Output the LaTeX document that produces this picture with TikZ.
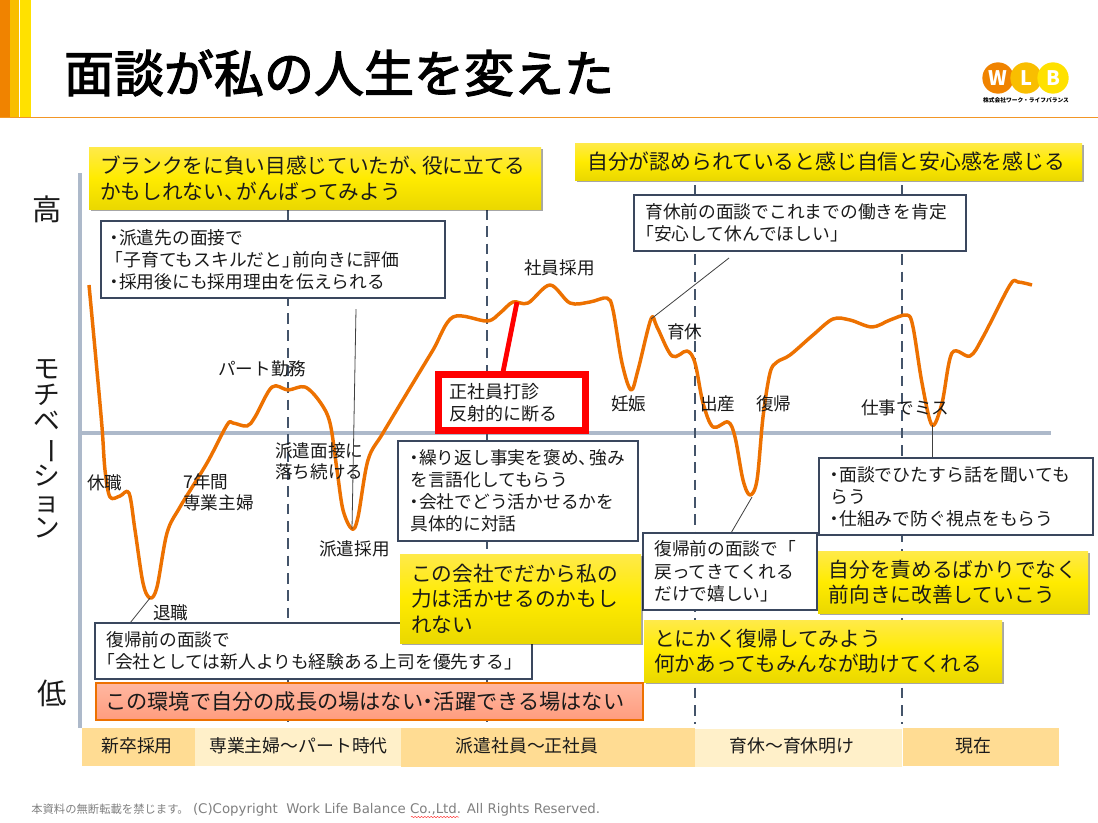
\documentclass[tikz,border=0pt]{standalone}
\usepackage{fontspec}
\setmainfont{Noto Sans CJK JP}
\newfontfamily\vera{DejaVu Sans}
\newfontface\titlef[FakeBold=2.4]{Noto Sans CJK JP}
\usetikzlibrary{calc,shadows,decorations.pathmorphing}
\definecolor{axisc}{HTML}{ADB9CA}
\definecolor{dashc}{HTML}{44546A}
\definecolor{boxc}{HTML}{3A475E}
\definecolor{curvec}{HTML}{ED7100}
\definecolor{bandA}{HTML}{FFDC93}
\definecolor{bandB}{HTML}{FFF0C9}
\definecolor{ink}{HTML}{1A1A1A}
\definecolor{yellowtop}{HTML}{FFEA4A}
\definecolor{yellowmid}{HTML}{FFEB00}
\definecolor{yellowbot}{HTML}{EAD800}
\definecolor{salmontop}{HTML}{FFB7A0}
\definecolor{salmonbot}{HTML}{FF9C7E}
\definecolor{salmonedge}{HTML}{ED7100}
\definecolor{hdA}{HTML}{F08300}
\definecolor{hdB}{HTML}{F9BE00}
\definecolor{hdC}{HTML}{FFE100}
\newcommand\fnt[2]{\fontsize{#1}{#2}\selectfont}
\newcommand\dt{\makebox[0.5em]{・}}
\newcommand\ten{、\hspace{-.4em}}
\newcommand\kl{\hspace*{-.5em}「}
\newcommand\kla{\hspace*{-.25em}「}
\newcommand\kr{」\hspace{-.4em}}
\newcommand\tbx[9]{%
  \pgfmathsetmacro\bw{(#4-#2)*0.75}\pgfmathsetmacro\bh{(#5-#3)*0.75}%
  \node[#6,anchor=north west,inner sep=0pt,outer sep=0pt,minimum width=\bw pt,minimum height=\bh pt] (#1) at (#2,#3) {};
  \node[anchor=west,inner sep=0pt,align=left,text=ink,font=#8] (#1t) at ($(#1.west)+(#7,0)$) {#9};}
\newcommand\bandn[8]{\pgfmathsetmacro\bw{(#4-#2)*0.75}\pgfmathsetmacro\bh{(#5-#3)*0.75}\node[band,fill=#6,minimum width=\bw pt,minimum height=\bh pt] (#1) at (#2,#3) {};\node[bandt] (#1t) at (#7,746) {#8};}
\tikzset{
  whitebox/.style={draw=boxc,line width=1.5pt,fill=white},
  yellowbox/.style={top color=yellowtop,bottom color=yellowbot,middle color=yellowmid,drop shadow={shadow xshift=1.2pt,shadow yshift=-1.5pt,opacity=.35,fill=black}},
  salmonbox/.style={top color=salmontop,bottom color=salmonbot,draw=salmonedge,line width=.8pt},
  redbox/.style={draw=red,line width=5pt,fill=white},
  vdash/.style={draw=dashc,line width=1.5pt,dash pattern=on 8pt off 5pt},
  axisline/.style={draw=axisc,line width=2.5pt},
  leader/.style={draw=black!75,line width=.6pt},
  lbl/.style={font=\fnt{13.2}{16},text=ink,inner sep=0pt,align=left},
  band/.style={inner sep=0pt,outer sep=0pt,anchor=north west},
  bandt/.style={font=\fnt{13.4}{15},text=ink,inner sep=0pt},
  logoc/.style={circle,inner sep=0pt,minimum size=23.5pt,text=white,font=\bfseries\fnt{15}{15}},
}
\begin{document}
\begin{tikzpicture}[x=0.75pt,y=-0.75pt]
\useasboundingbox (0,0) rectangle (1098,822);
\fill[white] (0,0) rectangle (1098,822);
% header
\fill[hdA] (0,0) rectangle (10,117);
\fill[hdB] (10,0) rectangle (19,117);
\fill[hdC] (20,0) rectangle (31,117);
\draw[hdA!85!white,line width=.6pt] (0,117.5) -- (1098,117.5);
\node[font=\titlef\fnt{37.5}{40},text=black,inner sep=0pt] (title) at (339,73) {面談が私の人生を変えた};
% logo
\node[logoc,fill=hdA] (logoW) at (998,78) {W};
\node[logoc,fill=hdB] (logoL) at (1026,78) {L};
\node[logoc,fill=hdC] (logoB) at (1053,78) {B};
\node[font=\bfseries\fnt{4.3}{5},text=black,inner sep=0pt] (logoT) at (1026,100) {株式会社ワーク・ライフバランス};
% axes
\coordinate (axT) at (80,173); \coordinate (axB) at (80,728);
\coordinate (axL) at (80,433); \coordinate (axR) at (1051,433);
\draw[axisline] (axT) -- (axB);
\draw[axisline] (axL) -- (axR);
% dashed phase lines
\coordinate (d1t) at (288,209); \coordinate (d1b) at (288,727);
\coordinate (d2t) at (487,209); \coordinate (d2b) at (487,727);
\coordinate (d3t) at (695,185); \coordinate (d3b) at (695,724);
\coordinate (d4t) at (902,185); \coordinate (d4b) at (902,724);
\draw[vdash] (d1t) -- (d1b);
\draw[vdash] (d2t) -- (d2b);
\draw[vdash] (d3t) -- (d3b);
\draw[vdash] (d4t) -- (d4b);
% axis labels
\node[font=\fnt{22}{24},text=ink,inner sep=0pt] (high) at (47,209) {高};
\node[font=\fnt{22}{24},text=ink,inner sep=0pt] (low) at (52,693) {低};
\node[font=\fnt{20}{19.5},text=ink,inner sep=0pt,align=center] (motiv) at (47,449) {モ\\チ\\ベ\\\rotatebox[origin=c]{-90}{\reflectbox{ー}}\\シ\\ョ\\ン};
% curve
\draw[curvec,line width=2.6pt,line join=round] plot[smooth,tension=0.55] coordinates {
(89,285) (96,360) (102,427) (105,470) (110,497) (120,496) (129,493) (135,530) (143,583) (150,598) (157,587) (167,533) (180,507) (207,463) (227,425) (233,423) (247,426) (255,417) (272,387) (288,390) (305,387) (320,402) (330,423) (337,470) (343,510) (352,529) (358,517) (368,460) (383,433) (410,388)
(433,350) (453,317) (487,321) (500,313) (513,302) (528,303) (550,285) (570,303) (590,302) (607,298) (613,310) (622,363) (631,390) (638,370) (651,319) (657,327) (672,356) (687,351) (695,363) (703,403) (713,427) (728,422) (735,437) (743,480) (750,495) (757,480) (763,417) (770,373) (777,362) (790,355) (813,335) (833,319) (850,320) (872,327) (890,320) (907,315) (913,327) (922,383) (932,425) (942,403) (952,353) (970,356) (983,337) (1010,285) (1018,282) (1032,285)};
% labels
\node[lbl,anchor=west] (l1) at (87,483) {休職};
\node[lbl,anchor=west] (l2) at (183,492) {7年間\\専業主婦};
\node[lbl,anchor=west] (l3) at (218,369) {パート勤務};
\node[lbl,anchor=west] (l4) at (275,461) {派遣面接に\\落ち続ける};
\node[lbl,anchor=west] (l5) at (319,549) {派遣採用};
\node[lbl,anchor=west] (l6) at (153,613) {退職};
\node[lbl,anchor=west] (l7) at (524,268) {社員採用};
\node[lbl,anchor=west] (l8) at (667,332) {育休};
\node[lbl,anchor=west] (l9) at (611,404) {妊娠};
\node[lbl,anchor=west] (l10) at (700,404) {出産};
\node[lbl,anchor=west] (l11) at (756,404) {復帰};
\node[lbl,anchor=west] (l12) at (861,408) {仕事でミス};
% leaders
\coordinate (c1) at (150,598); \coordinate (c1b) at (130,623);
\coordinate (c2) at (352,529); \coordinate (c2b) at (356,309);
\coordinate (c3) at (651,319); \coordinate (c3b) at (729,258);
\coordinate (c4) at (752,497); \coordinate (c4b) at (731,533);
\coordinate (c5) at (932,425); \coordinate (c5b) at (932,458);
\coordinate (c6) at (517,302); \coordinate (c6b) at (503,372);
\draw[leader] (c1) -- (c1b);
\draw[leader] (c2) -- (c2b);
\draw[leader] (c3) -- (c3b);
\draw[leader] (c4) -- (c4b);
\draw[leader] (c5) -- (c5b);
\draw[red,line width=3.6pt] (c6) -- (c6b);
% white boxes
\tbx{bA}{101}{221}{445}{298}{whitebox}{9}{\fnt{13.3}{16.6}}{\dt 派遣先の面接で\\\kla 子育てもスキルだと\kr 前向きに評価\\\dt 採用後にも採用理由を伝えられる}
\tbx{bB}{634}{195}{966}{251}{whitebox}{11}{\fnt{13.3}{16.5}}{育休前の面談でこれまでの働きを肯定\\\kl 安心して休んでほしい」}
\tbx{bC}{398}{441}{638}{541}{whitebox}{12}{\fnt{13.3}{16.5}}{\dt 繰り返し事実を褒め\ten 強み\\を言語化してもらう\\\dt 会社でどう活かせるかを\\具体的に対話}
\tbx{bD}{819}{458}{1093}{535}{whitebox}{11}{\fnt{13.4}{16.6}}{\dt 面談でひたすら話を聞いても\\らう\\\dt 仕組みで防ぐ視点をもらう}
\tbx{bE}{643}{533}{817}{610}{whitebox}{11}{\fnt{13.3}{17}}{復帰前の面談で「\\戻ってきてくれる\\だけで嬉しい」}
\tbx{bF}{95}{623}{532}{679}{whitebox}{11}{\fnt{13.3}{16.5}}{復帰前の面談で\\\kl 会社としては新人よりも経験ある上司を優先する」}
% red box
\tbx{bR}{438.5}{374.5}{585.5}{430.5}{redbox}{10.5}{\fnt{13.5}{16.5}}{正社員打診\\反射的に断る}
% salmon box
\tbx{bS}{96}{683}{643}{720}{salmonbox}{9}{\fnt{15.9}{18}}{この環境で自分の成長の場はない\dt 活躍できる場はない}
% yellow boxes
\tbx{y1}{89}{147}{541}{209}{yellowbox}{11}{\fnt{15.5}{19.5}}{ブランクをに負い目感じていたが\ten 役に立てる\\かもしれない\ten がんばってみよう}
\tbx{y2}{575}{143}{1082}{180}{yellowbox}{12}{\fnt{15.6}{19}}{自分が認められていると感じ自信と安心感を感じる}
\tbx{y3}{400}{554}{641}{643}{yellowbox}{11}{\fnt{15.5}{19.2}}{この会社でだから私の\\力は活かせるのかもし\\れない}
\tbx{y4}{818}{551}{1088}{613}{yellowbox}{10.5}{\fnt{15.5}{18.8}}{自分を責めるばかりでなく\\前向きに改善していこう}
\tbx{y5}{644}{620}{1002}{682}{yellowbox}{10}{\fnt{15.5}{18.8}}{とにかく復帰してみよう\\何かあってもみんなが助けてくれる}
% bands
\bandn{p1}{82}{728}{195}{766}{bandA}{137}{新卒採用}
\bandn{p2}{195}{728}{401}{766}{bandB}{298.5}{専業主婦～パート時代}
\bandn{p3}{401}{728}{695}{767}{bandA}{527}{派遣社員～正社員}
\bandn{p4}{695}{729}{902}{767}{bandB}{792}{育休～育休明け}
\bandn{p5}{903}{728}{1059}{766}{bandA}{973}{現在}
% footer
\node[anchor=west,inner sep=0pt,text=black!50,font=\fnt{8.5}{10}] (foot) at (31,810) {本資料の無断転載を禁じます。{\vera\fnt{10}{10} (C)Copyright\ \ Work Life Balance Co.,Ltd. All Rights Reserved.}};
\coordinate (sq1) at (411,817); \coordinate (sq2) at (459,817);
\draw[red!80,line width=.35pt,decorate,decoration={snake,amplitude=.5pt,segment length=2.4pt}] (sq1) -- (sq2);
\end{tikzpicture}
\end{document}
